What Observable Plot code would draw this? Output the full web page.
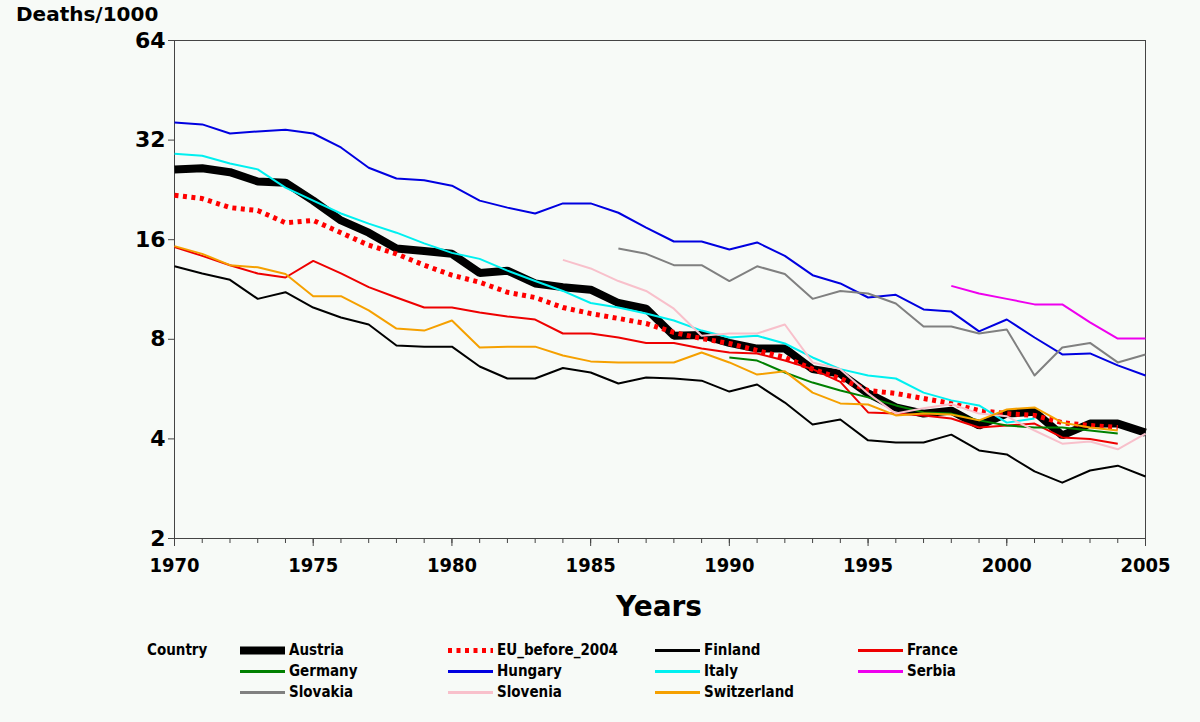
<!DOCTYPE html>
<html><head><meta charset="utf-8">
<script src="https://cdn.jsdelivr.net/npm/d3@7"></script>
<script src="https://cdn.jsdelivr.net/npm/@observablehq/plot@0.6"></script>
<style>
html,body{margin:0;padding:0;background:#f7faf7;}
#wrap{position:relative;width:1200px;height:722px;overflow:hidden;font-family:"DejaVu Sans",sans-serif;font-weight:bold;color:#000;}
#chart{position:absolute;left:0;top:0;}
.ttl{position:absolute;left:16px;top:4px;font-size:20px;line-height:20px;}
.xl{position:absolute;left:559px;width:200px;top:593px;text-align:center;font-size:28px;line-height:28px;}
.cond{font-family:"DejaVu Sans Condensed","DejaVu Sans",sans-serif;font-stretch:condensed;}
.leg{position:absolute;font-size:15px;line-height:21px;white-space:nowrap;}
.sw{position:absolute;}
</style></head><body>
<div id="wrap">
  <div id="chart"></div>
  <div class="ttl">Deaths/1000</div>
  <div class="xl">Years</div>
  <div id="legend"></div>
</div>
<script>
// ---- data (deaths per 1000, 1970..2005; null = no data) ----
const years = d3.range(1970, 2006);
const xTickLabels = [1970, 1975, 1980, 1985, 1990, 1995, 2000, 2005];
const yTicks = [2, 4, 8, 16, 32, 64];

const austria = [26.1, 26.3, 25.6, 24.0, 23.8, 21.0, 18.3, 16.8, 15.05, 14.8, 14.5, 12.7, 12.9, 11.8, 11.5, 11.3, 10.3, 9.9, 8.2, 8.25, 7.8, 7.5, 7.5, 6.5, 6.3, 5.49, 4.98, 4.77, 4.87, 4.39, 4.77, 4.83, 4.10, 4.45, 4.45, 4.18];
const euBefore2004 = [21.8, 21.3, 20.0, 19.6, 18.0, 18.3, 16.8, 15.4, 14.5, 13.4, 12.5, 11.9, 11.1, 10.7, 9.98, 9.57, 9.25, 8.93, 8.39, 8.04, 7.77, 7.40, 7.05, 6.5, 6.09, 5.60, 5.49, 5.30, 5.12, 4.87, 4.77, 4.71, 4.48, 4.39, 4.33, null];
const finland = [13.3, 12.65, 12.1, 10.6, 11.1, 9.98, 9.31, 8.87, 7.66, 7.6, 7.6, 6.62, 6.09, 6.09, 6.55, 6.35, 5.88, 6.13, 6.09, 6.0, 5.56, 5.84, 5.15, 4.42, 4.58, 3.96, 3.90, 3.90, 4.12, 3.69, 3.59, 3.19, 2.95, 3.21, 3.32, 3.08];
const france = [15.2, 14.3, 13.4, 12.65, 12.3, 13.8, 12.65, 11.5, 10.7, 9.98, 9.98, 9.64, 9.38, 9.18, 8.33, 8.33, 8.1, 7.8, 7.8, 7.5, 7.30, 7.25, 6.90, 6.5, 5.95, 4.81, 4.77, 4.71, 4.61, 4.33, 4.39, 4.45, 4.04, 4.00, 3.87, null];
const germany = [null, null, null, null, null, null, null, null, null, null, null, null, null, null, null, null, null, null, null, null, 7.05, 6.90, 6.35, 5.92, 5.60, 5.34, 5.05, 4.81, 4.77, 4.55, 4.39, 4.33, 4.33, 4.24, 4.15, null];
const hungary = [36.2, 35.7, 33.5, 34.0, 34.4, 33.5, 30.4, 26.4, 24.5, 24.2, 23.3, 21.0, 20.0, 19.2, 20.6, 20.6, 19.3, 17.4, 15.8, 15.8, 14.95, 15.7, 14.3, 12.5, 11.8, 10.7, 10.9, 9.85, 9.7, 8.45, 9.18, 8.1, 7.2, 7.25, 6.67, 6.22];
const italy = [29.1, 28.7, 27.2, 26.1, 23.0, 21.0, 19.2, 17.9, 16.8, 15.6, 14.6, 14.0, 12.9, 12.0, 11.2, 10.3, 9.98, 9.57, 9.12, 8.5, 8.1, 8.2, 7.77, 7.05, 6.5, 6.22, 6.09, 5.52, 5.23, 5.05, 4.48, 4.61, null, null, null, null];
const serbia = [null, null, null, null, null, null, null, null, null, null, null, null, null, null, null, null, null, null, null, null, null, null, null, null, null, null, null, null, 11.6, 11.0, 10.6, 10.2, 10.2, 9.0, 8.04, 8.04];
const slovakia = [null, null, null, null, null, null, null, null, null, null, null, null, null, null, null, null, 15.05, 14.5, 13.4, 13.4, 12.0, 13.3, 12.6, 10.6, 11.2, 11.0, 10.26, 8.75, 8.75, 8.33, 8.56, 6.22, 7.56, 7.8, 6.81, 7.2];
const slovenia = [null, null, null, null, null, null, null, null, null, null, null, null, null, null, 13.9, 13.1, 12.0, 11.2, 9.9, 8.2, 8.33, 8.33, 8.87, 6.81, 6.5, 5.49, 4.77, 4.95, 5.1, 4.77, 4.68, 4.24, 3.87, 3.93, 3.72, 4.15];
const switzerland = [15.3, 14.5, 13.4, 13.2, 12.6, 10.8, 10.8, 9.78, 8.62, 8.5, 9.12, 7.56, 7.6, 7.6, 7.15, 6.86, 6.81, 6.81, 6.81, 7.30, 6.81, 6.26, 6.4, 5.52, 5.12, 5.08, 4.71, 4.77, 4.74, 4.55, 4.91, 4.98, 4.48, 4.33, 4.24, null];

const countries = ["Austria", "EU_before_2004", "Finland", "France", "Germany", "Hungary", "Italy", "Serbia", "Slovakia", "Slovenia", "Switzerland"];
const seriesValues = [austria, euBefore2004, finland, france, germany, hungary, italy, serbia, slovakia, slovenia, switzerland];

// ---- styles ----
const styles = {
  "Austria":        {color: "#000000", width: 8},
  "EU_before_2004": {color: "#ff0000", width: 5, dash: "4,4.5"},
  "Finland":        {color: "#000000", width: 2},
  "France":         {color: "#ee0000", width: 2},
  "Germany":        {color: "#008000", width: 2},
  "Hungary":        {color: "#0000e0", width: 2},
  "Italy":          {color: "#00f0f0", width: 2},
  "Serbia":         {color: "#ee00ee", width: 2},
  "Slovakia":       {color: "#808080", width: 2},
  "Slovenia":       {color: "#f8c0cb", width: 2},
  "Switzerland":    {color: "#f5a000", width: 2}
};

const rows = [];
countries.forEach((c, i) => {
  seriesValues[i].forEach((v, j) => { if (v != null) rows.push({country: c, year: years[j], value: v}); });
});

const condFont = '"DejaVu Sans Condensed","DejaVu Sans",sans-serif';

const chart = Plot.plot({
  width: 1200,
  height: 620,
  marginLeft: 174,
  marginRight: 55,
  marginTop: 40,
  marginBottom: 82,
  style: {background: "transparent", overflow: "visible", fontFamily: '"DejaVu Sans",sans-serif'},
  x: {domain: [1970, 2005], label: null},
  y: {type: "log", base: 2, domain: [2, 64], label: null},
  marks: [
    Plot.frame({stroke: "#444"}),
    Plot.axisY({ticks: yTicks, tickFormat: d => String(d), tickSize: 6, tickPadding: 3, fontSize: 22, fontWeight: "bold", label: null, stroke: "#444"}),
    Plot.axisX({ticks: years, tickSize: 5, tickFormat: () => "", label: null, stroke: "#444"}),
    Plot.axisX({ticks: xTickLabels, tickSize: 8, tickPadding: 11, tickFormat: d => String(d), fontSize: 20, fontWeight: "bold", fontFamily: condFont, label: null, stroke: "#444"}),
    ...countries.map(c => Plot.line(rows.filter(r => r.country === c), {
      x: "year", y: "value",
      stroke: styles[c].color,
      strokeWidth: styles[c].width,
      strokeDasharray: styles[c].dash,
      strokeLinejoin: c === "Austria" ? "bevel" : "round",
      strokeLinecap: "butt"
    }))
  ]
});
document.getElementById("chart").appendChild(chart);

// ---- legend ----
const legend = document.getElementById("legend");
const colX = [240, 448, 655, 858];
const rowTop = 640, rowH = 21;
const head = document.createElement("div");
head.className = "leg cond";
head.style.left = "147px"; head.style.top = rowTop + "px";
head.textContent = "Country";
legend.appendChild(head);
countries.forEach((c, i) => {
  const col = i % 4, row = Math.floor(i / 4);
  const top = rowTop + row * rowH;
  const s = styles[c];
  const sw = document.createElementNS("http://www.w3.org/2000/svg", "svg");
  sw.setAttribute("class", "sw");
  sw.setAttribute("width", 45); sw.setAttribute("height", 21);
  sw.style.left = colX[col] + "px"; sw.style.top = top + "px";
  const ln = document.createElementNS("http://www.w3.org/2000/svg", "line");
  ln.setAttribute("x1", 0); ln.setAttribute("x2", 45);
  ln.setAttribute("y1", 10.5); ln.setAttribute("y2", 10.5);
  ln.setAttribute("stroke", s.color);
  ln.setAttribute("stroke-width", c === "Austria" ? 8 : (s.dash ? 5 : 3));
  if (s.dash) ln.setAttribute("stroke-dasharray", s.dash);
  sw.appendChild(ln);
  legend.appendChild(sw);
  const t = document.createElement("div");
  t.className = "leg cond";
  t.style.left = (colX[col] + 49) + "px"; t.style.top = top + "px";
  t.textContent = c;
  legend.appendChild(t);
});
</script>
</body></html>
